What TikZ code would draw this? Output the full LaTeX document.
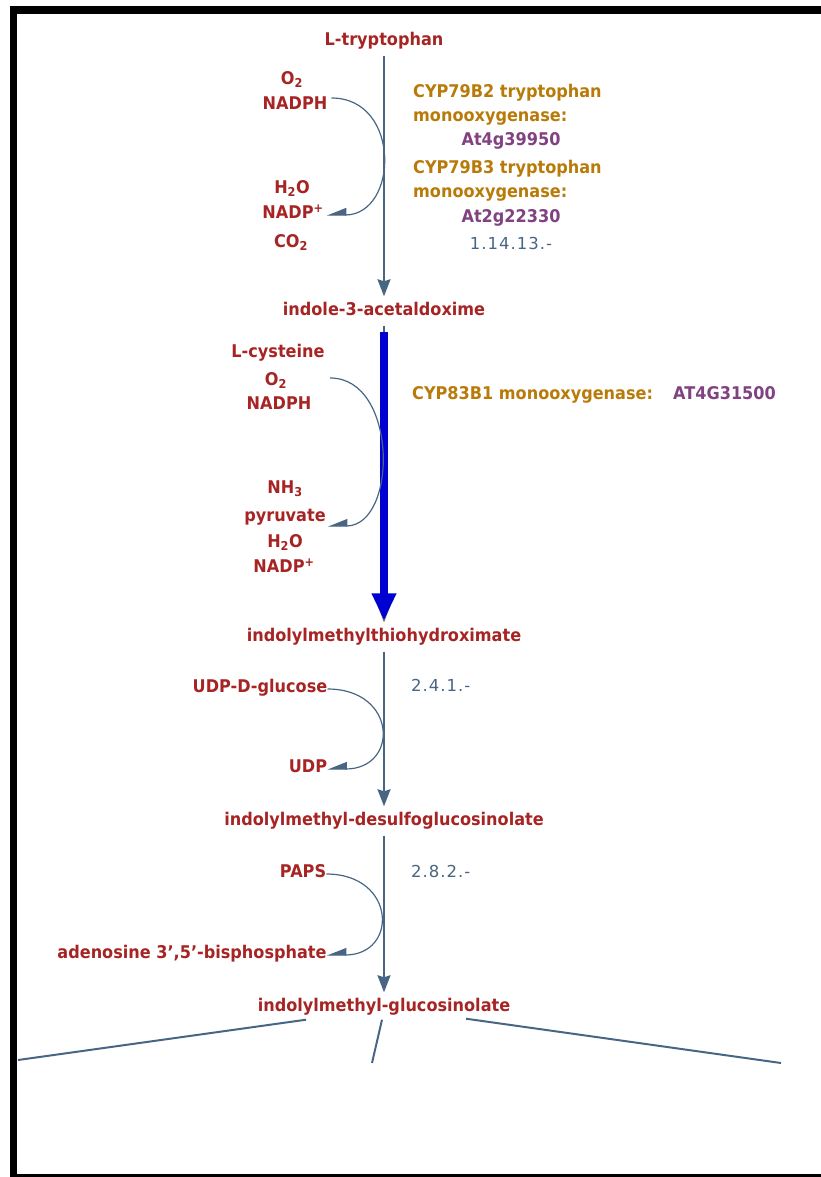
\documentclass[tikz,border=0pt]{standalone}
\usepackage{fontspec}
\usepackage{xcolor}
\usepackage{tikz}
\usetikzlibrary{arrows.meta,calc}
\setmainfont{DejaVu Sans}
\newfontfamily\cpdfont[FakeStretch=0.92,Ligatures=TeX]{DejaVu Sans}
\newfontfamily\ecfont[LetterSpace=6]{DejaVu Sans}
\definecolor{cpdred}{RGB}{166,36,36}
\definecolor{enzgold}{RGB}{184,122,8}
\definecolor{genepurple}{RGB}{128,66,128}
\definecolor{rxnsteel}{RGB}{72,102,132}
\definecolor{fluxblue}{RGB}{0,0,208}

\begin{document}
\begin{tikzpicture}[x=1pt,y=-1pt,
  lbl/.style={inner sep=0pt,text height=13pt,text depth=4pt,font={\cpdfont\bfseries\fontsize{17.5}{19}\selectfont}},
  cpd/.style={lbl,text=cpdred},
  enz/.style={lbl,text=enzgold,anchor=west},
  gene/.style={lbl,text=genepurple},
  ec/.style={lbl,text=rxnsteel,font={\ecfont\fontsize{16.5}{18}\selectfont}},
  rxn/.style={draw=rxnsteel,line width=2pt,-{Stealth[length=17pt,width=13pt,inset=2pt]},shorten <=6pt,shorten >=6pt},
  flux/.style={draw=fluxblue,line width=8pt,-{Triangle[length=27pt,width=23pt]},shorten <=12pt,shorten >=8pt},
  side/.style={draw=rxnsteel,line width=1.2pt,-{Triangle[harpoon,swap,length=18pt,width=14pt]}},
  branch/.style={draw=rxnsteel,line width=2pt}]
  \useasboundingbox (0,0) rectangle (821,1177);
  \fill (9.5,6) rectangle (821,14);
  \fill (9.5,6) rectangle (17,1177);
  \fill (9.5,1174) rectangle (821,1177);

  \node[cpd] (ltrp) at (384,41) {L-tryptophan};
  \node[cpd] (iaox) at (384,311) {indole-3-acetaldoxime};
  \node[cpd] (ithx) at (384,637) {indolylmethylthiohydroximate};
  \node[cpd] (idsg) at (384,821) {indolylmethyl-desulfoglucosinolate};
  \node[cpd] (iglu) at (384,1007) {indolylmethyl-glucosinolate};

  \node[cpd] (o2a) at (292,80) {O\textsubscript{2}};
  \node[cpd] (nadpha) at (295,105) {NADPH};
  \node[cpd] (h2oa) at (292,189) {H\textsubscript{2}O};
  \node[cpd] (nadppa) at (293,214) {NADP\textsuperscript{+}};
  \node[cpd] (co2a) at (291,243) {CO\textsubscript{2}};
  \node[enz] (cyp2a) at (413,93) {CYP79B2 tryptophan};
  \node[enz] (cyp2b) at (413,117) {monooxygenase:};
  \node[gene] (at4g) at (511,141) {At4g39950};
  \node[enz] (cyp3a) at (413,169) {CYP79B3 tryptophan};
  \node[enz] (cyp3b) at (413,193) {monooxygenase:};
  \node[gene] (at2g) at (511,218) {At2g22330};
  \node[ec] (ec1) at (511,245) {1.14.13.-};

  \node[cpd] (lcys) at (278,353) {L-cysteine};
  \node[cpd] (o2b) at (276,381) {O\textsubscript{2}};
  \node[cpd] (nadphb) at (279,405) {NADPH};
  \node[cpd] (nh3) at (285,489) {NH\textsubscript{3}};
  \node[cpd] (pyr) at (285,517) {pyruvate};
  \node[cpd] (h2ob) at (285,543) {H\textsubscript{2}O};
  \node[cpd] (nadppb) at (284,568) {NADP\textsuperscript{+}};
  \node[enz] (cyp83) at (412,395) {CYP83B1 monooxygenase:};
  \node[gene,anchor=west] (at4g31) at (673,395) {AT4G31500};

  \node[cpd] (udpg) at (260,688) {UDP-D-glucose};
  \node[cpd] (udp) at (308,768) {UDP};
  \node[ec,anchor=west] (ec2) at (411,687) {2.4.1.-};
  \node[cpd] (paps) at (303,873) {PAPS};
  \node[cpd] (adbp) at (192,954) {adenosine 3’,5’-bisphosphate};
  \node[ec,anchor=west] (ec3) at (411,873) {2.8.2.-};

  \coordinate (bl) at (18,1060);
  \coordinate (bm) at (372,1063);
  \coordinate (br) at (781,1063);

  \draw[rxn] (ltrp) -- (iaox);
  \draw[rxn] (iaox) -- (ithx);
  \draw[flux] (iaox) -- (ithx);
  \draw[rxn] (ithx) -- (idsg);
  \draw[rxn] (idsg) -- (iglu);

  \draw[side] ([xshift=4pt,yshift=7pt]nadpha.east) .. controls +(70,0) and +(72,0) .. ([xshift=3pt,yshift=-1pt]nadppa.east);
  \draw[side] ($(o2b.east)+(43,-3)$) .. controls +(68,0) and +(70,0) .. ([xshift=2pt,yshift=-9pt]pyr.east);
  \draw[side] ([yshift=-1pt]udpg.east) .. controls +(70,0) and +(72,0) .. ([yshift=-1pt]udp.east);
  \draw[side] ([yshift=-1pt]paps.east) .. controls +(70,0) and +(72,0) .. ([yshift=-1pt]adbp.east);

  \draw[branch] ([xshift=-78pt,yshift=-4pt]iglu.south) -- (bl);
  \draw[branch] ([xshift=-2pt,yshift=-4pt]iglu.south) -- (bm);
  \draw[branch] ([xshift=82pt,yshift=-3pt]iglu.south) -- (br);
\end{tikzpicture}
\end{document}
